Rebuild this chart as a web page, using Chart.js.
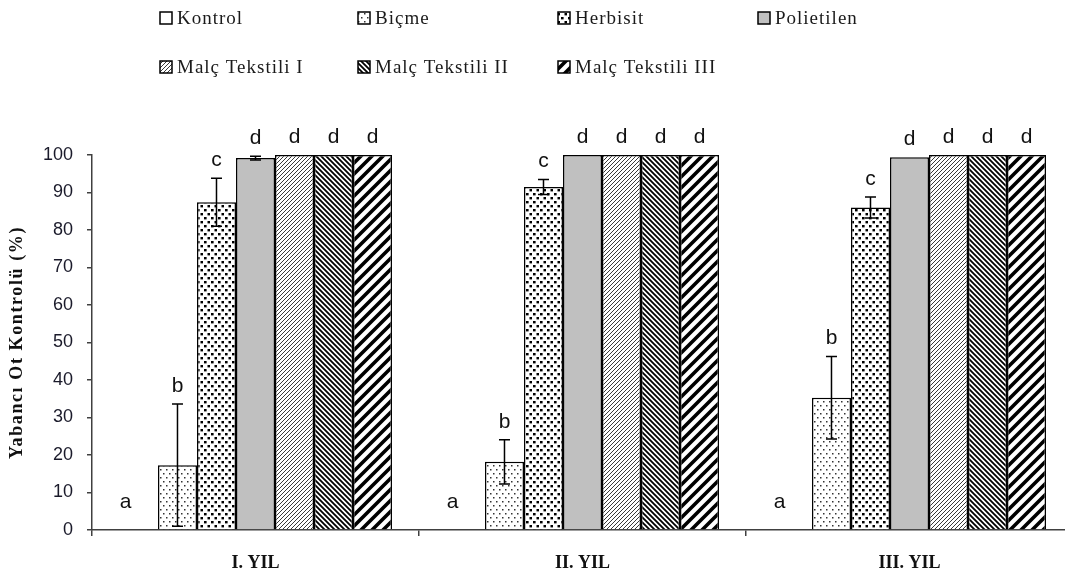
<!DOCTYPE html>
<html lang="tr">
<head>
<meta charset="utf-8">
<title>Yabancı Ot Kontrolü</title>
<script src="https://cdn.jsdelivr.net/npm/chart.js@4.4.1/dist/chart.umd.min.js"></script>
<style>
    html, body { margin: 0; padding: 0; background: #fff; overflow: hidden; }
    #wrap { width: 1078px; height: 580px; }
</style>
</head>
<body>
<div id="wrap"><canvas id="weedChart" width="1078" height="580"></canvas></div>
<script>
// ---------- Data ----------
const years = ["I. YIL", "II. YIL", "III. YIL"];
const treatments = ["Kontrol", "Biçme", "Herbisit", "Polietilen", "Malç Tekstili I", "Malç Tekstili II", "Malç Tekstili III"];

const kontrol    = [0, 0, 0];
const bicme      = [17.3, 18.2, 35.3];
const herbisit   = [87.4, 91.5, 86.0];
const polietilen = [99.2, 100, 99.4];
const malc1      = [100, 100, 100];
const malc2      = [100, 100, 100];
const malc3      = [100, 100, 100];

// standard errors (drawn as ± bars)
const kontrolErr    = [0, 0, 0];
const bicmeErr      = [16.3, 5.9, 11];
const herbisitErr   = [6.4, 2, 2.8];
const polietilenErr = [0.5, 0, 0];
const malc1Err      = [0, 0, 0];
const malc2Err      = [0, 0, 0];
const malc3Err      = [0, 0, 0];

// significance groups, same for each year
const letters = ["a", "b", "c", "d", "d", "d", "d"];

const yMin = 0;
const yMax = 100;
const yStep = 10;

const yTitle = "Yabancı Ot Kontrolü (%)";

// ---------- Fill patterns ----------
function makePattern(w, h, draw) {
    const c = document.createElement("canvas");
    c.width = w;
    c.height = h;
    const g = c.getContext("2d");
    g.fillStyle = "#fff";
    g.fillRect(0, 0, w, h);
    draw(g, w, h);
    return g.createPattern(c, "repeat");
}

function diagonal(p, width, color, rising) {
    return makePattern(p, p, (g) => {
        g.strokeStyle = color;
        g.lineWidth = width;
        g.lineCap = "square";
        const segs = [
            [0, p, p, 0],
            [-p / 2, p / 2, p / 2, -p / 2],
            [p / 2, p * 1.5, p * 1.5, p / 2]
        ];
        g.beginPath();
        segs.forEach(s => {
            if (rising) {
                g.moveTo(s[0], s[1]);
                g.lineTo(s[2], s[3]);
            } else {
                g.moveTo(p - s[0], s[1]);
                g.lineTo(p - s[2], s[3]);
            }
        });
        g.stroke();
    });
}

const fineDots = makePattern(6, 8, (g) => {
    g.fillStyle = "#333";
    g.fillRect(1, 1, 1.5, 1.5);
    g.fillRect(4, 5, 1.5, 1.5);
});

const coarseDots = makePattern(7, 8, (g) => {
    g.fillStyle = "#000";
    g.fillRect(1, 1, 2.6, 2.4);
    g.fillRect(4.5, 5, 2.6, 2.4);
});

const fills = [
    "#ffffff",
    fineDots,
    coarseDots,
    "#c0c0c0",
    diagonal(4, 1, "#3a3a3a", true),
    diagonal(5, 1.8, "#000", false),
    diagonal(11, 3.6, "#000", true)
];

const seriesValues = [kontrol, bicme, herbisit, polietilen, malc1, malc2, malc3];
const seriesErrors = [kontrolErr, bicmeErr, herbisitErr, polietilenErr, malc1Err, malc2Err, malc3Err];

const datasets = treatments.map((name, i) => ({
    label: name,
    data: seriesValues[i],
    errors: seriesErrors[i],
    letter: letters[i],
    backgroundColor: fills[i],
    borderColor: "#000",
    borderWidth: 1.5,
    categoryPercentage: 0.835,
    barPercentage: 1.0
}));

// ---------- Plugins ----------
// error bars with caps
const errorBars = {
    id: "errorBars",
    afterDatasetsDraw(chart) {
        const ctx = chart.ctx;
        const y = chart.scales.y;
        ctx.save();
        ctx.strokeStyle = "#000";
        ctx.lineWidth = 1.5;
        chart.data.datasets.forEach((ds, di) => {
            const meta = chart.getDatasetMeta(di);
            meta.data.forEach((bar, i) => {
                const err = ds.errors[i];
                if (!err) return;
                const v = ds.data[i];
                const top = y.getPixelForValue(v + err);
                const bot = y.getPixelForValue(Math.max(v - err, 0));
                const cap = 5.5;
                ctx.beginPath();
                ctx.moveTo(bar.x, top);
                ctx.lineTo(bar.x, bot);
                ctx.moveTo(bar.x - cap, top);
                ctx.lineTo(bar.x + cap, top);
                ctx.moveTo(bar.x - cap, bot);
                ctx.lineTo(bar.x + cap, bot);
                ctx.stroke();
            });
        });
        ctx.restore();
    }
};

// group letters above bars
const groupLetters = {
    id: "groupLetters",
    afterDatasetsDraw(chart) {
        const ctx = chart.ctx;
        const y = chart.scales.y;
        const base = y.getPixelForValue(0);
        ctx.save();
        ctx.font = "21px 'Liberation Sans', Arial, sans-serif";
        ctx.fillStyle = "#111";
        ctx.textAlign = "center";
        ctx.textBaseline = "alphabetic";
        chart.data.datasets.forEach((ds, di) => {
            const meta = chart.getDatasetMeta(di);
            meta.data.forEach((bar, i) => {
                const v = ds.data[i];
                const top = y.getPixelForValue(v + (ds.errors[i] || 0));
                let ty = Math.min(top - 12, base - 22);
                let tx = bar.x;
                if (v === 0) tx -= 13;
                ctx.fillText(ds.letter, tx, ty);
            });
        });
        ctx.restore();
    }
};

// y axis title with letter spacing
const yAxisTitle = {
    id: "yAxisTitle",
    afterDraw(chart) {
        const ctx = chart.ctx;
        const area = chart.chartArea;
        ctx.save();
        ctx.translate(17, (area.top + area.bottom) / 2);
        ctx.rotate(-Math.PI / 2);
        ctx.font = "bold 18px 'Liberation Serif', 'Times New Roman', serif";
        ctx.letterSpacing = "1.6px";
        ctx.fillStyle = "#111";
        ctx.textAlign = "center";
        ctx.textBaseline = "middle";
        ctx.fillText(yTitle, 0, 0);
        ctx.restore();
    }
};

// legend laid out as a 4-column grid at the top
const gridLegend = {
    id: "gridLegend",
    afterDraw(chart) {
        const ctx = chart.ctx;
        const colX = [160, 358, 558, 758];
        const rowY = [18, 67];
        const box = 12;
        ctx.save();
        ctx.font = "19px 'Liberation Serif', 'Times New Roman', serif";
        ctx.letterSpacing = "1px";
        ctx.textBaseline = "middle";
        ctx.textAlign = "left";
        chart.data.datasets.forEach((ds, i) => {
            const x = colX[i % 4];
            const yy = rowY[Math.floor(i / 4)];
            ctx.fillStyle = ds.backgroundColor;
            ctx.fillRect(x, yy - box / 2, box, box);
            ctx.strokeStyle = "#000";
            ctx.lineWidth = 1.5;
            ctx.strokeRect(x, yy - box / 2, box, box);
            ctx.fillStyle = "#1a1a1a";
            ctx.fillText(ds.label, x + box + 5, yy + 1);
        });
        ctx.restore();
    }
};

// ---------- Chart ----------
const ctx = document.getElementById("weedChart").getContext("2d");

const weedChart = new Chart(ctx, {
    type: "bar",
    data: {
        labels: years,
        datasets: datasets
    },
    options: {
        responsive: false,
        animation: false,
        layout: {
            padding: { top: 155, right: 5, bottom: 0, left: 0 }
        },
        plugins: {
            legend: { display: false },
            tooltip: { enabled: false }
        },
        scales: {
            x: {
                afterFit(scale) { scale.height = 50; },
                border: { display: true, color: "#404040", width: 1.5 },
                grid: {
                    offset: true,
                    drawOnChartArea: false,
                    drawTicks: true,
                    tickLength: 6,
                    color: "#404040",
                    lineWidth: 1.5
                },
                ticks: {
                    padding: 17,
                    color: "#111",
                    font: { family: "'Liberation Serif', 'Times New Roman', serif", size: 18, weight: "bold" }
                }
            },
            y: {
                min: yMin,
                max: yMax,
                afterFit(scale) { scale.width = 92; },
                border: { display: true, color: "#404040", width: 1.5 },
                grid: {
                    drawOnChartArea: false,
                    drawTicks: true,
                    tickLength: 5,
                    color: "#404040",
                    lineWidth: 1.5
                },
                ticks: {
                    stepSize: yStep,
                    padding: 14,
                    color: "#1a1a2a",
                    font: { family: "'Liberation Sans', Arial, sans-serif", size: 18 }
                }
            }
        }
    },
    plugins: [errorBars, groupLetters, yAxisTitle, gridLegend]
});
</script>
</body>
</html>
